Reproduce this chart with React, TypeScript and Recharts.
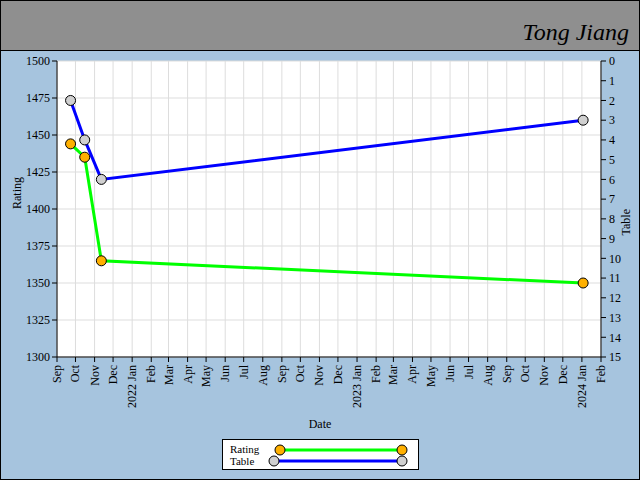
import { LineChart, Line, XAxis, YAxis, CartesianGrid } from "recharts";

const FONT = "Liberation Serif";

// points
const dates = ["2021-09-23", "2021-10-16", "2021-11-12", "2024-01-03"];
const ratings = [1444, 1435, 1365, 1350];
const tables = [2, 4, 6, 3];

const monthTicks = [
  "2021-09-01", "2021-10-01", "2021-11-01", "2021-12-01",
  "2022-01-01", "2022-02-01", "2022-03-01", "2022-04-01", "2022-05-01", "2022-06-01",
  "2022-07-01", "2022-08-01", "2022-09-01", "2022-10-01", "2022-11-01", "2022-12-01",
  "2023-01-01", "2023-02-01", "2023-03-01", "2023-04-01", "2023-05-01", "2023-06-01",
  "2023-07-01", "2023-08-01", "2023-09-01", "2023-10-01", "2023-11-01", "2023-12-01",
  "2024-01-01", "2024-02-01",
];
const monthNames = ["Jan", "Feb", "Mar", "Apr", "May", "Jun", "Jul", "Aug", "Sep", "Oct", "Nov", "Dec"];

const ratingTicks = [1300, 1325, 1350, 1375, 1400, 1425, 1450, 1475, 1500];
const tableTicks = [0, 1, 2, 3, 4, 5, 6, 7, 8, 9, 10, 11, 12, 13, 14, 15];

const ts = (s: string) => Date.parse(s + "T00:00:00Z");
const xTicks = monthTicks.map(ts);

const data = dates.map((d, i) => ({
  t: ts(d),
  rating: ratings[i],
  table: tables[i],
}));

function monthLabel(t: number) {
  const d = new Date(t);
  const m = d.getUTCMonth();
  return m === 0 ? `${d.getUTCFullYear()} ${monthNames[m]}` : monthNames[m];
}

function DateTick(props: any) {
  const { x, y, payload } = props;
  const yy = y + 1;
  return (
    <text
      x={x}
      y={yy}
      dy={4}
      transform={`rotate(-90 ${x} ${yy})`}
      textAnchor="end"
      fontFamily={FONT}
      fontSize={12}
      fill="#000"
    >
      {monthLabel(payload.value)}
    </text>
  );
}

function LegendBox() {
  return (
    <svg width={197} height={31} style={{ display: "block" }}>
      <rect x={0.5} y={0.5} width={196} height={30} fill="#fff" stroke="#000" />
      <text x={8} y={14} fontFamily={FONT} fontSize={11} fill="#000">Rating</text>
      <text x={8} y={26} fontFamily={FONT} fontSize={11} fill="#000">Table</text>
      <line x1={58} y1={11} x2={180} y2={11} stroke="#00ff00" strokeWidth={3} />
      <circle cx={58} cy={11} r={5} fill="#ffb000" stroke="#000" />
      <circle cx={180} cy={11} r={5} fill="#ffb000" stroke="#000" />
      <line x1={52} y1={22} x2={180} y2={22} stroke="#0000ff" strokeWidth={3} />
      <circle cx={52} cy={22} r={5} fill="#d0d0d0" stroke="#000" />
      <circle cx={180} cy={22} r={5} fill="#d0d0d0" stroke="#000" />
    </svg>
  );
}

export default function App() {
  return (
    <div
      style={{
        position: "absolute",
        left: 0,
        top: 0,
        width: 640,
        height: 480,
        background: "#a6c4de",
        boxSizing: "border-box",
        border: "1px solid #000",
        overflow: "hidden",
      }}
    >
      <div
        style={{
          position: "absolute",
          left: 0,
          top: 0,
          width: 638,
          height: 49,
          background: "#8f8f8f",
          borderBottom: "1px solid #000",
        }}
      >
        <div
          style={{
            position: "absolute",
            right: 10,
            top: 18,
            fontFamily: FONT,
            fontStyle: "italic",
            fontSize: 24,
            color: "#000",
          }}
        >
          Tong Jiang
        </div>
      </div>
      <div style={{ position: "absolute", left: -1, top: -1 }}>
        <LineChart
          width={640}
          height={480}
          data={data}
          margin={{ top: 61, right: 0, bottom: 50, left: 0 }}
        >
          <CartesianGrid yAxisId="left" stroke="#dddddd" fill="#ffffff" />
          <XAxis
            dataKey="t"
            type="number"
            domain={[xTicks[0], xTicks[xTicks.length - 1]]}
            ticks={xTicks}
            interval={0}
            tick={<DateTick />}
            tickSize={5}
            height={73}
            axisLine={{ stroke: "#000" }}
            tickLine={{ stroke: "#000" }}
            label={{
              value: "Date",
              position: "insideBottom",
              offset: 2,
              dx: -9,
              fontFamily: FONT,
              fontSize: 12,
              fill: "#000",
            }}
          />
          <YAxis
            yAxisId="left"
            domain={[1300, 1500]}
            ticks={ratingTicks}
            interval={0}
            width={57}
            tickSize={5}
            tickMargin={2}
            axisLine={{ stroke: "#000" }}
            tickLine={{ stroke: "#000" }}
            tick={{ fontFamily: FONT, fontSize: 12, fill: "#000" }}
            label={{
              value: "Rating",
              angle: -90,
              position: "insideLeft",
              offset: 17,
              fontFamily: FONT,
              fontSize: 12,
              fill: "#000",
            }}
          />
          <YAxis
            yAxisId="right"
            orientation="right"
            reversed
            domain={[0, 15]}
            ticks={tableTicks}
            interval={0}
            width={39}
            tickSize={5}
            tickMargin={3}
            axisLine={{ stroke: "#000" }}
            tickLine={{ stroke: "#000" }}
            tick={{ fontFamily: FONT, fontSize: 12, fill: "#000" }}
            label={{
              value: "Table",
              angle: -90,
              position: "insideRight",
              offset: 14,
              fontFamily: FONT,
              fontSize: 12,
              fill: "#000",
            }}
          />
          <Line
            yAxisId="left"
            dataKey="rating"
            stroke="#00ff00"
            strokeWidth={3}
            dot={{ r: 5, fill: "#ffb000", stroke: "#000", strokeWidth: 1 }}
            isAnimationActive={false}
          />
          <Line
            yAxisId="right"
            dataKey="table"
            stroke="#0000ff"
            strokeWidth={3}
            dot={{ r: 5, fill: "#d0d0d0", stroke: "#000", strokeWidth: 1 }}
            isAnimationActive={false}
          />
        </LineChart>
      </div>
      <div style={{ position: "absolute", left: 221, top: 438 }}>
        <LegendBox />
      </div>
    </div>
  );
}
